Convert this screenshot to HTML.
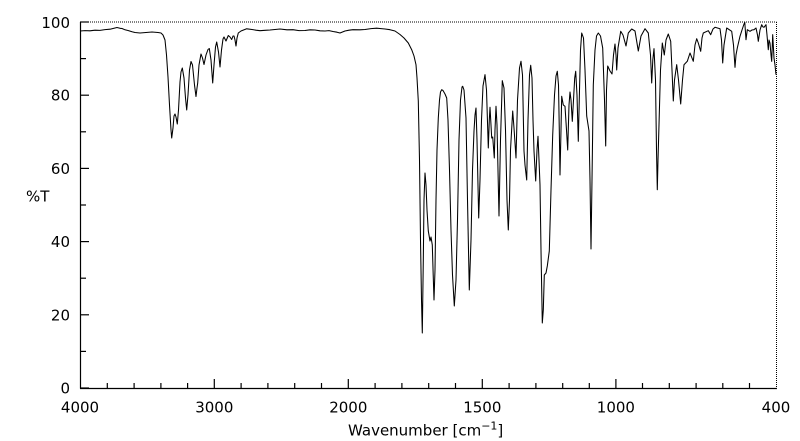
<!DOCTYPE html>
<html>
<head>
<meta charset="utf-8">
<style>
html,body{margin:0;padding:0;background:#fff;}
svg{display:block;}
text{font-family:"DejaVu Sans","Liberation Sans",sans-serif;font-size:15px;fill:#000;}
</style>
</head>
<body>
<svg width="800" height="441" viewBox="0 0 800 441" xmlns="http://www.w3.org/2000/svg">
<rect width="800" height="441" fill="#fff"/>
<!-- frame -->
<line x1="80" y1="22" x2="776.5" y2="22" stroke="#000" stroke-width="1" stroke-dasharray="1,1"/>
<line x1="776.5" y1="22" x2="776.5" y2="388" stroke="#000" stroke-width="1" stroke-dasharray="1,1"/>
<line x1="80.5" y1="22" x2="80.5" y2="388.5" stroke="#000" stroke-width="1.2"/>
<line x1="80" y1="388.5" x2="777" y2="388.5" stroke="#000" stroke-width="1.2"/>
<!-- y ticks -->
<g stroke="#000" stroke-width="1.2">
<line x1="80" y1="388" x2="89" y2="388"/>
<line x1="80" y1="314.8" x2="89" y2="314.8"/>
<line x1="80" y1="241.6" x2="89" y2="241.6"/>
<line x1="80" y1="168.4" x2="89" y2="168.4"/>
<line x1="80" y1="95.2" x2="89" y2="95.2"/>
<line x1="80" y1="22" x2="89" y2="22"/>
<line x1="80" y1="351.4" x2="86" y2="351.4"/>
<line x1="80" y1="278.2" x2="86" y2="278.2"/>
<line x1="80" y1="205" x2="86" y2="205"/>
<line x1="80" y1="131.8" x2="86" y2="131.8"/>
<line x1="80" y1="58.6" x2="86" y2="58.6"/>
</g>
<!-- x ticks -->
<g stroke="#000" stroke-width="1.2">
<line x1="214.3" y1="388" x2="214.3" y2="379"/>
<line x1="348.3" y1="388" x2="348.3" y2="379"/>
<line x1="482.3" y1="388" x2="482.3" y2="379"/>
<line x1="615.9" y1="388" x2="615.9" y2="379"/>
<line x1="107.3" y1="388" x2="107.3" y2="383"/>
<line x1="134.1" y1="388" x2="134.1" y2="383"/>
<line x1="160.9" y1="388" x2="160.9" y2="383"/>
<line x1="187.6" y1="388" x2="187.6" y2="383"/>
<line x1="241.1" y1="388" x2="241.1" y2="383"/>
<line x1="267.9" y1="388" x2="267.9" y2="383"/>
<line x1="294.7" y1="388" x2="294.7" y2="383"/>
<line x1="321.5" y1="388" x2="321.5" y2="383"/>
<line x1="375.1" y1="388" x2="375.1" y2="383"/>
<line x1="401.9" y1="388" x2="401.9" y2="383"/>
<line x1="428.7" y1="388" x2="428.7" y2="383"/>
<line x1="455.5" y1="388" x2="455.5" y2="383"/>
<line x1="509.1" y1="388" x2="509.1" y2="383"/>
<line x1="535.9" y1="388" x2="535.9" y2="383"/>
<line x1="562.7" y1="388" x2="562.7" y2="383"/>
<line x1="589.3" y1="388" x2="589.3" y2="383"/>
<line x1="642.5" y1="388" x2="642.5" y2="383"/>
<line x1="669.3" y1="388" x2="669.3" y2="383"/>
<line x1="696.1" y1="388" x2="696.1" y2="383"/>
<line x1="722.8" y1="388" x2="722.8" y2="383"/>
<line x1="749.5" y1="388" x2="749.5" y2="383"/>
</g>
<!-- y labels -->
<text x="70" y="393.5" text-anchor="end">0</text>
<text x="70" y="320.3" text-anchor="end">20</text>
<text x="70" y="247.1" text-anchor="end">40</text>
<text x="70" y="173.9" text-anchor="end">60</text>
<text x="70" y="100.7" text-anchor="end">80</text>
<text x="70" y="27.8" text-anchor="end">100</text>
<!-- x labels -->
<text x="80" y="412.5" text-anchor="middle">4000</text>
<text x="214.3" y="412.5" text-anchor="middle">3000</text>
<text x="348.3" y="412.5" text-anchor="middle">2000</text>
<text x="482.3" y="412.5" text-anchor="middle">1500</text>
<text x="615.9" y="412.5" text-anchor="middle">1000</text>
<text x="776" y="412.5" text-anchor="middle">400</text>
<text x="26" y="201.5">%T</text>
<text x="348" y="435.5">Wavenumber [cm<tspan font-size="11" dy="-6">−1</tspan><tspan dy="6">]</tspan></text>
<!-- spectrum -->
<polyline fill="none" stroke="#000" stroke-width="1.05" stroke-linejoin="round" points="
80,31 85,30.6 90,30.8 95,30.2 100,30.4 105,29.6 110,29.2 114,28.2 117,27.5 120,28.3 122,28.5 125,29.8 128,30.5 132,31.8 135,32.5 140,33 146,32.5 152,32 158,32.5 161,33 163,35 165,40 166.5,55 168,77 169.5,105 171,130 171.7,138 173,128 174,116 175,114 176,117 177.3,124 178.5,110 180,82 181,72 182.3,68 184,78 185.5,98 186.7,110 188,95 189.5,70 191,61.5 192.5,65 194.5,85 196,96.5 197,88 197.7,83 199,65 201,54 202.5,58 204,64.5 206,55 208,49.5 209.3,48.5 211,60 212.7,83 214,65 215.5,47 216.7,42 218.5,52 220,67 221.5,50 223,39 224,37 226,41 228.3,35.5 230,37 231.7,39.5 233,36 234,36 235,40 236,46 237,38 238.3,33 241,31 246.7,28.8 252,29.5 256,30.2 260,30.7 265,30.3 270,30 275,29.5 280,29 287,29.8 293,29.7 299,30.6 305,30.5 310,29.8 315,30 320,30.8 325,31 329,30.6 333,31.5 337,32.2 340,33 345,31 349,30.2 353,29.7 360,29.8 365,29.5 371,28.6 376.7,28.2 381,28.6 385,29 390,29.7 395,31 400,34.5 404,38 408.3,43 411.7,49.7 414,56 416,64.7 417,78 418.3,101 419.5,160 420.5,240 421.5,300 422.3,333 423.3,260 424,200 425,173 426,185 427,210 428.3,231 430,241 431,237 432.3,245 433.2,275 434,300 435,270 436,200 437,150 438.3,118 439.5,100 440.5,92 441.7,89.7 443,90.5 445,94 446.7,98 448,120 449.5,170 451,230 452.5,275 454.3,306 456,280 457.5,220 459,140 460.5,100 462,87 462.7,86.3 464,90 466,118 467.5,200 469.3,290 471,240 472.5,170 474,131 475,115 476,108 477,140 478.7,218 480,180 481.5,120 483,86 485,74.7 486.5,90 488.3,148 489.3,120 490,107.3 491,125 491.7,138 492.7,137 494.3,158 495,130 496,106.3 497,125 499,216 500.5,140 502.3,80.7 504,88 505.5,130 507,200 508.3,230 509.5,200 510.5,150 512.7,111 514,128 516,158 517.5,100 519.5,68 521,61.3 522.5,75 524,151 525,165 526.7,180 528,120 529.5,75 530.7,65.3 532,78 533,120 534,151 535.7,181 537,150 538,136.3 539,160 540,185 541,250 542.3,323 543.3,310 544.3,275 546,273 547.3,266 549.3,251 551,190 552.7,135 554.5,95 556,76 557.3,71.3 558.5,85 559.3,130 560,175 561,130 561.7,96.3 563.3,105 565,106.3 566.5,130 567.7,150 569,105 570,92 571,100 572.3,121.3 573.5,100 574.7,78 575.7,71.3 577,95 578.3,141.3 579.5,90 580.5,50 581.7,33 583.5,38 585,70 586.7,116 589,131 590,180 591,249 592,180 593.3,85 595,50 596.5,36 598.3,33 600.5,36 602.7,48 604.5,100 605.7,146 606.5,90 607.7,66 610,71 612,74 613.5,55 615,44 616,55 616.7,70 618,48 620.7,31.3 623,35 626,46 628.3,33 631.7,29 635,31 638.3,51 641,36 645,28.7 648.3,33 650.5,55 651.7,83 652.8,60 654,48.7 655.5,80 656.5,150 657.3,189.7 658,160 659,124.7 660.5,70 662.3,43 664.3,55 666,40 668.3,34 670.7,41.3 672,70 673.3,101 674.5,80 676.7,64.7 678.5,80 680.7,104 682.5,80 684,64.7 687.3,61.3 690,53 693.3,61.3 695,45 696.7,38.7 698.3,43 700.7,51.3 702,38 703.3,33 708.3,30.7 710.7,34.7 713,29 715,27.3 720,28.7 721.5,40 722.7,63 724,45 726.7,28 731.7,31.3 733.5,45 735,67.3 736,55 737.3,48 740,36.3 742,30 744,24 744.8,22.5 746,39.7 747.3,29.7 750,31.3 752,30 754,29.7 756,28 757.5,35 758.3,41.3 760,30 761.7,24.7 763,27 764,27.3 766,24.7 767,35 768.3,49.7 769,40 770,43 771,55 771.7,61.3 772.7,34.7 774,58 775,65 776,74.7"/>
</svg>
</body>
</html>
